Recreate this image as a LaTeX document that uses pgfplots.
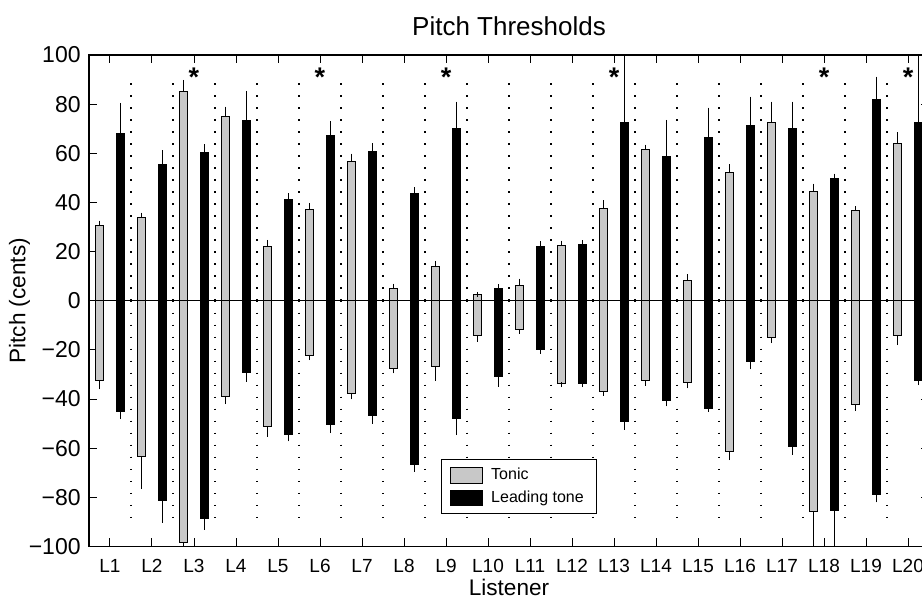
\documentclass[border=0pt]{standalone}
\usepackage{pgfplots}
\pgfplotsset{compat=1.18}
\usepackage{pgfplotstable}
\usepackage{fontspec}
\setmainfont{Liberation Sans}
\definecolor{tonicgray}{RGB}{200,200,200}

% L = listener, lo/hi = bar ends, elo/ehi = ends of the error bars
\pgfplotstableread{
L  lo     hi    elo     ehi
1  -32.3  30.5  -35.1   31.6
2  -63.5  33.8  -75.7   34.9
3  -98.3  85.3  -99.5   88.9
4  -39.1  74.9  -41.1   78.0
5  -51.1  22.0  -54.3   23.8
6  -22.4  37.0  -23.2   38.9
7  -37.7  56.6  -39.2   58.9
8  -27.5   4.8  -28.6    6.0
9  -26.8  13.9  -31.6   15.3
10 -14.0   2.6  -15.7    2.6
11 -11.5   6.4  -12.5    8.0
12 -33.6  22.5  -34.2   23.5
13 -36.8  37.5  -37.7   39.9
14 -32.3  61.7  -33.6   62.6
15 -33.1   8.2  -34.7    9.8
16 -61.4  52.1  -63.9   54.5
17 -14.9  72.5  -16.3   80.1
18 -85.9  44.6  -115.0  46.7
19 -42.4  36.8  -43.7   37.5
20 -14.0  64.1  -17.1   67.6
}\tonic

\pgfplotstableread{
L  lo     hi    elo     ehi
1  -44.9  68.1  -47.2   79.6
2  -81.5  55.5  -89.3   60.2
3  -88.6  60.5  -92.2   62.7
4  -29.2  73.3  -31.9   84.4
5  -54.3  41.3  -56.3   42.7
6  -50.3  67.4  -52.9   72.0
7  -46.9  60.9  -49.1   63.1
8  -66.5  43.8  -68.6   45.3
9  -48.1  70.0  -53.7   80.1
10 -30.8   4.8  -34.0    5.7
11 -19.8  22.1  -20.6   23.2
12 -33.8  22.7  -34.2   23.6
13 -49.0  72.5  -51.5  115.0
14 -40.8  58.9  -42.0   72.6
15 -43.9  66.4  -44.2   77.6
16 -24.9  71.2  -27.0   82.1
17 -59.4  70.0  -61.7   80.1
18 -85.5  49.7  -99.0   50.8
19 -78.7  82.1  -81.1   90.2
20 -32.6  72.5  -33.4  115.0
}\lead

\pgfplotsset{
  floatbar/.style={ybar, bar width=0.21, draw=black, line width=0.5pt},
  errs/.style={forget plot, draw=none, mark=none, error bars/y explicit,
    error bars/error bar style={black, line width=0.5pt},
    error bars/error mark options={black, mark size=1.2pt, line width=0.5pt}},
}

\begin{document}
\begin{tikzpicture}

\begin{axis}[%
width=420pt,
height=245.7pt,
scale only axis,
xmin=0.5,
xmax=20.5,
ymin=-100,
ymax=100,
xtick={1,2,3,4,5,6,7,8,9,10,11,12,13,14,15,16,17,18,19,20},
xticklabels={L1,L2,L3,L4,L5,L6,L7,L8,L9,L10,L11,L12,L13,L14,L15,L16,L17,L18,L19,L20},
ytick={-100,-80,-60,-40,-20,0,20,40,60,80,100},
yticklabels={−100,−80,−60,−40,−20,0,20,40,60,80,100},
tick align=inside,
major tick length=4pt,
tick style={black, line width=0.5pt},
axis line style={black, line width=0.8pt},
xticklabel style={font=\fontsize{9.5}{10}\selectfont, anchor=base, yshift=-12.8pt},
yticklabel style={font=\fontsize{11.5}{12}\selectfont, anchor=east, inner sep=0pt, xshift=-4pt},
title={Pitch Thresholds},
title style={font=\fontsize{13}{14}\selectfont, at={(axis description cs:0.5,1.0163)}, anchor=base, yshift=0pt},
xlabel={Listener},
xlabel style={font=\fontsize{11.3}{12}\selectfont, at={(axis description cs:0.5,-0.0997)}, anchor=base},
ylabel={Pitch (cents)},
ylabel style={font=\fontsize{11.3}{12}\selectfont, at={(axis description cs:-0.0827,0.5)}, anchor=center},
legend style={at={(axis cs:8.874,-64.4)}, anchor=north west, draw=black, line width=0.5pt,
  font=\fontsize{8}{9}\selectfont, legend cell align=left, inner xsep=4.5pt, inner ysep=2.3pt,
  row sep=0pt, column sep=2pt},
]

% zero line
\addplot[forget plot, black, line width=0.6pt] coordinates {(0.5,0) (20.5,0)};

% dotted separators between listeners
\addplot[forget plot, draw=none, mark=none,
  error bars/y dir=both, error bars/y fixed=89, error bars/error mark=none,
  error bars/error bar style={black, line width=1pt, dash pattern=on 0.7pt off 5.3pt}]
  coordinates {(1.5,0) (2.5,0) (3.5,0) (4.5,0) (5.5,0) (6.5,0) (7.5,0) (8.5,0) (9.5,0) (10.5,0)
  (11.5,0) (12.5,0) (13.5,0) (14.5,0) (15.5,0) (16.5,0) (17.5,0) (18.5,0) (19.5,0)};

% tonic
\addplot[floatbar, bar shift=-0.25, fill=tonicgray,
  legend image code/.code={\draw[fill=tonicgray, draw=black, line width=0.5pt] (0pt,-3.9pt) rectangle (16pt,3.9pt);}]
  table[x=L, y=hi] {\tonic};
\addlegendentry{Tonic}
\addplot[forget plot, floatbar, bar shift=-0.25, fill=tonicgray]
  table[x=L, y=lo] {\tonic};

% leading tone
\addplot[floatbar, bar shift=0.25, fill=black,
  legend image code/.code={\draw[fill=black, draw=black, line width=0.5pt] (0pt,-3.9pt) rectangle (16pt,3.9pt);}]
  table[x=L, y=hi] {\lead};
\addlegendentry{Leading tone}
\addplot[forget plot, floatbar, bar shift=0.25, fill=black]
  table[x=L, y=lo] {\lead};

% one-sided error bars at the bar ends
\addplot[errs, error bars/y dir=plus]
  table[x expr=\thisrow{L}-0.25, y=hi, y error expr=\thisrow{ehi}-\thisrow{hi}] {\tonic};
\addplot[errs, error bars/y dir=minus]
  table[x expr=\thisrow{L}-0.25, y=lo, y error expr=\thisrow{lo}-\thisrow{elo}] {\tonic};
\addplot[errs, error bars/y dir=plus]
  table[x expr=\thisrow{L}+0.25, y=hi, y error expr=\thisrow{ehi}-\thisrow{hi}] {\lead};
\addplot[errs, error bars/y dir=minus]
  table[x expr=\thisrow{L}+0.25, y=lo, y error expr=\thisrow{lo}-\thisrow{elo}] {\lead};

% significance markers
\addplot[forget plot, only marks, mark=none,
  nodes near coords={\fontsize{13.5}{14}\selectfont\bfseries *},
  every node near coord/.style={anchor=base, inner sep=0pt}]
  coordinates {(3,87.2) (6,87.2) (9,87.2) (13,87.2) (18,87.2) (20,87.2)};

\coordinate (bbsw) at (axis cs:-1.619,-125.9);
\coordinate (bbne) at (axis cs:20.333,122.4);
\end{axis}

\pgfresetboundingbox
\useasboundingbox (bbsw) rectangle (bbne);
\end{tikzpicture}
\end{document}
